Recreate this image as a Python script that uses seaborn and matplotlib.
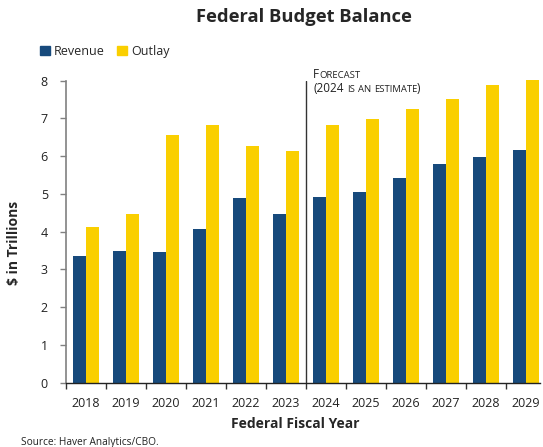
import numpy as np
import pandas as pd
import matplotlib
matplotlib.use("Agg")
import matplotlib.pyplot as plt
import matplotlib.patches as mpatches
from matplotlib.transforms import offset_copy
import seaborn as sns

years = ["2018", "2019", "2020", "2021", "2022", "2023",
         "2024", "2025", "2026", "2027", "2028", "2029"]
revenue = [3.36, 3.49, 3.45, 4.07, 4.90, 4.47, 4.92, 5.06, 5.42, 5.79, 5.97, 6.16]
outlay = [4.13, 4.46, 6.55, 6.82, 6.27, 6.15, 6.82, 6.99, 7.25, 7.52, 7.89, 8.03]
series_names = ["Revenue", "Outlay"]
colors = ["#174A7C", "#FACF00"]

df = pd.DataFrame({
    "year": years * 2,
    "value": revenue + outlay,
    "series": [series_names[0]] * len(years) + [series_names[1]] * len(years),
})

sns.set_theme(style="white")
plt.rcParams["font.family"] = ["Open Sans", "DejaVu Sans"]

fig = plt.figure(figsize=(5.43, 4.47), dpi=100)
W, H = 543, 447
ax = fig.add_axes([66 / W, 1 - 382.7 / H, 474 / W, 302 / H])

sns.barplot(data=df, x="year", y="value", hue="series", palette=colors,
            width=0.65, gap=0, saturation=1, linewidth=0, legend=False, ax=ax)
for p in ax.patches:
    p.set_clip_on(False)

ax.set_ylim(0, 8)
ax.set_xlim(-0.5, 11.36)
ax.set_yticks(range(0, 9))
ax.tick_params(axis="y", which="major", length=4, width=1, color="#808080",
               pad=9, labelsize=9, labelcolor="#222222", left=True)

# x: ticks at boundaries, labels at centers
ax.set_xticks(np.arange(-0.5, 11, 1))
ax.set_xticklabels([])
ax.set_xticks(np.arange(len(years)), minor=True)
ax.set_xticklabels(years, minor=True)
ax.tick_params(axis="x", which="major", length=4, width=1, color="#333333",
               bottom=True)
ax.tick_params(axis="x", which="minor", length=0, pad=10, labelsize=9,
               labelcolor="#222222")

for s in ["top", "right"]:
    ax.spines[s].set_visible(False)
ax.spines["left"].set_color("#808080")
ax.spines["left"].set_linewidth(1.2)
ax.spines["bottom"].set_color("#222222")
ax.spines["bottom"].set_linewidth(1.0)

ax.set_xlabel("Federal Fiscal Year", fontsize=10, fontweight="bold")
ax.xaxis.set_label_coords(0.483, -0.115)
ax.set_ylabel("$ in Trillions", fontsize=10, fontweight="bold")
ax.yaxis.set_label_coords(-0.095, 0.463)

# forecast divider
ax.axvline(5.5, ymin=0, ymax=1, color="#333333", lw=1)

fig.text(304 / W, 1 - 16.5 / H, "Federal Budget Balance", ha="center",
         va="center", fontsize=13.2, fontweight="bold")
fig.text(21 / W, 1 - 443 / H, "Source: Haver Analytics/CBO.", ha="left",
         va="center", fontsize=7.3, color="#222222")

handles = [mpatches.Patch(color=c, label=n) for c, n in zip(colors, series_names)]
fig.legend(handles=handles, loc="upper left",
           bbox_to_anchor=(40 / W, 1 - 45 / H), ncol=2, frameon=False,
           fontsize=9, handlelength=0.8, handleheight=0.8, handletextpad=0.3,
           columnspacing=1.0, borderpad=0, borderaxespad=0)

# small caps forecast note
fig.canvas.draw()
renderer = fig.canvas.get_renderer()


def small_caps(x_px, y_px, pieces, big=8.5, small=6.8):
    cur = 0.0
    for txt, is_big, gap in pieces:
        cur += gap
        size = big if is_big else small
        tr = offset_copy(fig.transFigure, fig=fig, x=cur, y=0, units="dots")
        t = fig.text(x_px / W, 1 - y_px / H, txt, transform=tr, fontsize=size,
                     ha="left", va="baseline", color="#222222")
        bb = t.get_window_extent(renderer)
        cur += bb.width


sp = 6.8 * 0.28 * fig.dpi / 72 + 0.6
small_caps(313, 77.5, [("F", True, 0), ("ORECAST", False, 0.6)])
small_caps(313, 92.5, [("(2024", True, 0), ("IS", False, sp),
                       ("AN", False, sp), ("ESTIMATE", False, sp),
                       (")", True, -1.0)])

fig.savefig("out.png", dpi=100)
